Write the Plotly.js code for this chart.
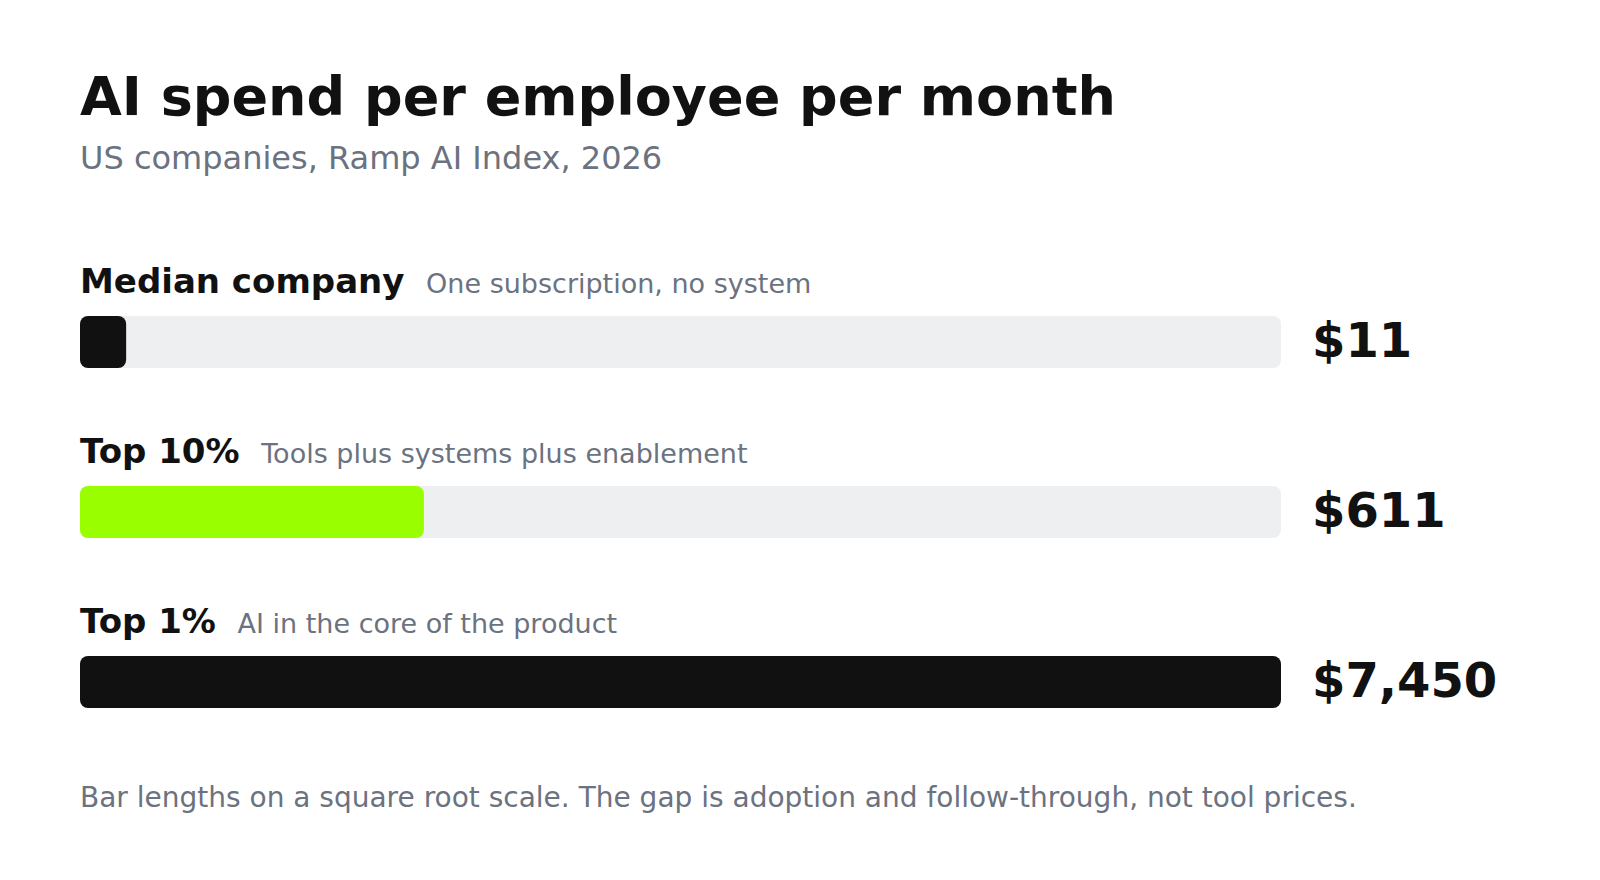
<!DOCTYPE html>
<html>
<head>
<meta charset="utf-8">
<script src="https://cdn.plot.ly/plotly-3.0.1.min.js"></script>
<style>
  html, body { margin: 0; padding: 0; background: #ffffff; }
  #chart { width: 1600px; height: 880px; }
</style>
</head>
<body>
<div id="chart"></div>
<script>
// ---- data ----
const categories = ['Median company', 'Top 10%', 'Top 1%'];
const descriptions = ['One subscription, no system', 'Tools plus systems plus enablement', 'AI in the core of the product'];
const values = [11, 611, 7450];
const valueLabels = ['$11', '$611', '$7,450'];
const titleText = 'AI spend per employee per month';
const subtitleText = 'US companies, Ramp AI Index, 2026';
const footnoteText = 'Bar lengths on a square root scale. The gap is adoption and follow-through, not tool prices.';

// ---- style ----
const FONT = 'DejaVu Sans, sans-serif';
const INK = '#111111';
const GRAY = '#6b7280';
const TRACK = '#eeeff1';
const barColors = ['#111111', '#99ff00', '#111111'];
const RADIUS = 8;
const BAR_W = 0.306;

const maxV = Math.max(...values);
const rootMax = Math.sqrt(maxV);
const idx = categories.map((_, i) => i);
const lens = values.map(v => Math.sqrt(v));   // square-root scale

// With an explicit base, Plotly rounds both ends of each bar.
const track = {
  type: 'bar', orientation: 'h', y: idx, base: idx.map(() => 0), x: values.map(() => rootMax),
  width: BAR_W, marker: { color: TRACK, cornerradius: RADIUS, line: { width: 0 } },
  hoverinfo: 'skip', showlegend: false
};
const bars = {
  type: 'bar', orientation: 'h', y: idx, base: idx.map(() => 0), x: lens,
  width: BAR_W, marker: { color: barColors, cornerradius: RADIUS, line: { width: 0 } },
  hoverinfo: 'skip', showlegend: false
};

const annotations = [];
annotations.push({
  xref: 'paper', yref: 'paper', x: 0, xshift: -2, y: (784 - 96.5) / 612, xanchor: 'left', yanchor: 'middle',
  text: '<b>' + titleText + '</b>', showarrow: false,
  font: { family: FONT, size: 54, color: INK }
});
annotations.push({
  xref: 'paper', yref: 'paper', x: 0, xshift: -2, y: (784 - 157.5) / 612, xanchor: 'left', yanchor: 'middle',
  text: subtitleText, showarrow: false,
  font: { family: FONT, size: 32, color: GRAY }
});
annotations.push({
  xref: 'paper', yref: 'paper', x: 0, xshift: -2, y: (784 - 797) / 612, xanchor: 'left', yanchor: 'middle',
  text: footnoteText, showarrow: false,
  font: { family: FONT, size: 28, color: GRAY }
});
categories.forEach((c, i) => {
  annotations.push({
    xref: 'paper', yref: 'y', x: 0, xshift: -2, y: i, yshift: 61, xanchor: 'left', yanchor: 'middle',
    text: '<b>' + c + '</b>&nbsp;&nbsp;<span style="font-size:27px;fill:' + GRAY + '">' + descriptions[i] + '</span>',
    showarrow: false,
    font: { family: FONT, size: 34, color: INK }
  });
  annotations.push({
    xref: 'paper', yref: 'y', x: 1, xshift: 29, y: i, yshift: 2, xanchor: 'left', yanchor: 'middle',
    text: '<b>' + valueLabels[i] + '</b>', showarrow: false,
    font: { family: FONT, size: 48, color: INK }
  });
});

const layout = {
  width: 1600, height: 880,
  margin: { l: 80, r: 319, t: 172, b: 96, pad: 0 },
  paper_bgcolor: '#ffffff', plot_bgcolor: '#ffffff',
  barmode: 'overlay',
  xaxis: { range: [0, rootMax], visible: false, fixedrange: true },
  yaxis: { range: [2.6, -1.0], visible: false, fixedrange: true },
  annotations: annotations,
  font: { family: FONT }
};

Plotly.newPlot('chart', [track, bars], layout, { staticPlot: true, displayModeBar: false });
</script>
</body>
</html>
